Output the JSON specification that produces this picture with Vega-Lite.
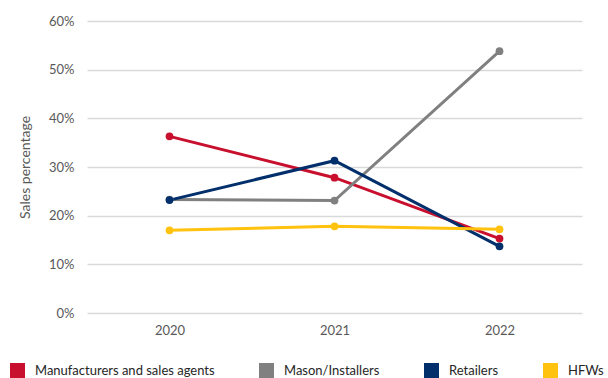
{
  "$schema": "https://vega.github.io/schema/vega-lite/v6.json",
  "autosize": "none",
  "width": 495,
  "height": 292,
  "padding": {"left": 87, "top": 21, "right": 26, "bottom": 65},
  "background": "white",
  "config": {
    "font": "Lato",
    "view": {"stroke": null},
    "axis": {"labelFont": "Lato", "titleFont": "Lato"}
  },
  "data": {
    "values": [
      {"year": "2020", "series": "Manufacturers and sales agents", "value": 0.363},
      {"year": "2021", "series": "Manufacturers and sales agents", "value": 0.278},
      {"year": "2022", "series": "Manufacturers and sales agents", "value": 0.153},
      {"year": "2020", "series": "Mason/Installers", "value": 0.233},
      {"year": "2021", "series": "Mason/Installers", "value": 0.231},
      {"year": "2022", "series": "Mason/Installers", "value": 0.538},
      {"year": "2020", "series": "Retailers", "value": 0.232},
      {"year": "2021", "series": "Retailers", "value": 0.313},
      {"year": "2022", "series": "Retailers", "value": 0.137},
      {"year": "2020", "series": "HFWs", "value": 0.170},
      {"year": "2021", "series": "HFWs", "value": 0.178},
      {"year": "2022", "series": "HFWs", "value": 0.172}
    ]
  },
  "encoding": {
    "x": {
      "field": "year",
      "type": "ordinal",
      "scale": {"type": "point", "padding": 0.5},
      "axis": {
        "title": null,
        "labelAngle": 0,
        "domain": false,
        "ticks": false,
        "labelPadding": 11,
        "labelFontSize": 13,
        "labelColor": "#595959"
      }
    },
    "y": {
      "field": "value",
      "type": "quantitative",
      "scale": {"domain": [0, 0.6], "nice": false},
      "axis": {
        "title": "Sales percentage",
        "format": ".0%",
        "values": [0, 0.1, 0.2, 0.3, 0.4, 0.5, 0.6],
        "domain": false,
        "ticks": false,
        "labelPadding": 13,
        "labelFontSize": 13,
        "labelColor": "#595959",
        "titleFontSize": 14,
        "titleFontWeight": "normal",
        "titleColor": "#595959",
        "titlePadding": 16,
        "gridColor": "#d9d9d9",
        "gridWidth": 1.5
      }
    },
    "color": {
      "field": "series",
      "type": "nominal",
      "sort": ["Manufacturers and sales agents", "Mason/Installers", "Retailers", "HFWs"],
      "scale": {
        "domain": ["Manufacturers and sales agents", "Mason/Installers", "Retailers", "HFWs"],
        "range": ["#C8102E", "#808080", "#002F6C", "#FFC20E"]
      },
      "legend": {
        "title": null,
        "orient": "none",
        "legendX": -77,
        "legendY": 342,
        "direction": "horizontal",
        "columns": 4,
        "columnPadding": 44,
        "symbolType": "square",
        "symbolSize": 225,
        "symbolStrokeWidth": 0,
        "symbolOpacity": 1,
        "labelOffset": 10,
        "labelFontSize": 13,
        "labelLimit": 0,
        "labelBaseline": "middle",
        "labelColor": "#262626",
        "padding": 0
      }
    }
  },
  "layer": [
    {"mark": {"type": "line", "strokeWidth": 3}},
    {"mark": {"type": "point", "filled": true, "size": 60, "opacity": 1}}
  ]
}
